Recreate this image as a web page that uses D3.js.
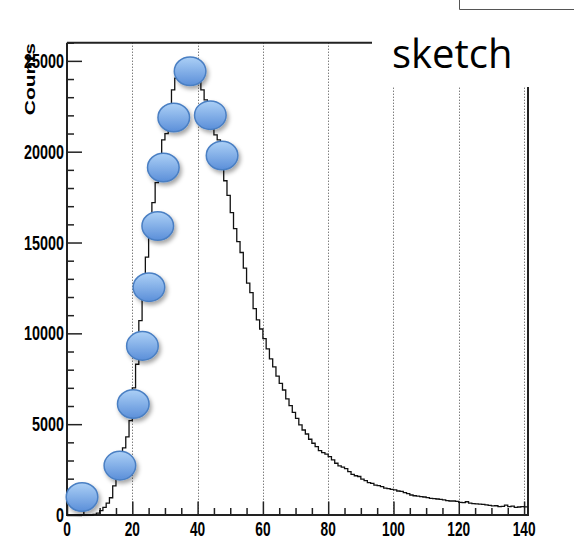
<!DOCTYPE html>
<html>
<head>
<meta charset="utf-8">
<script src="https://cdn.jsdelivr.net/npm/d3@7"></script>
<style>
  body { margin: 0; background: #fff; }
  svg { display: block; }
</style>
</head>
<body>
<svg width="574" height="540"></svg>
<script>
// The svg
var svg = d3.select("svg"),
    width = +svg.attr("width"),
    height = +svg.attr("height");

// Histogram contents, one count per unit-wide bin starting at 0
var binStart = 0;
var counts = [
    0, 0, 0, 0, 0, 0, 0, 0, 30, 100,
    240, 420, 650, 950, 1600, 2100, 2800, 3700, 4300, 5200,
    7000, 8300, 10700, 12300, 14200, 15700, 17200, 18300, 19500, 20650,
    21000, 22300, 23400, 24050, 24400, 24700, 24900, 25000, 24900, 24700,
    24300, 23400, 22850, 22200, 21600, 20930, 20650, 19500, 18400, 17600,
    16650, 15770, 15050, 14450, 13590, 12760, 12240, 11360, 10740, 10240,
    9710, 9150, 8600, 8150, 7650, 7250, 6880, 6390, 6020, 5650,
    5320, 4960, 4680, 4460, 4170, 3950, 3760, 3540, 3430, 3350,
    3210, 3030, 2850, 2700, 2640, 2550, 2390, 2240, 2160, 2120,
    1980, 1890, 1780, 1740, 1650, 1620, 1560, 1480, 1450, 1410,
    1380, 1320, 1300, 1230, 1180, 1100, 1060, 1040, 1010, 990,
    960, 920, 900, 880, 860, 830, 790, 770, 770, 750,
    690, 680, 730, 650, 630, 610, 600, 590, 560, 530,
    500, 510, 460, 470, 540, 460, 490, 420, 440, 460,
    450
];

// The hand drawn "sketch" markers laid over the curve
var sketchX = [4.6, 16.2, 20.3, 23.1, 25.1, 27.8, 29.5, 32.7, 37.7, 43.9, 47.5];
var sketchY = [990, 2720, 6110, 9310, 12540, 15910, 19130, 21880, 24430, 22010, 19790];

// Axis ticks and labels
var xTicks = [0, 20, 40, 60, 80, 100, 120, 140];
var yTicks = [0, 5000, 10000, 15000, 20000, 25000];
var yLabel = "Counts";
var noteText = "sketch";

// Scales
var x = d3.scaleLinear().domain([0, 141.2]).range([67, 528]);
var y = d3.scaleLinear().domain([0, 26000]).range([515, 42.7]);

var squeeze = 0.685;
var labelFont = "'Liberation Sans', Arial, Helvetica, sans-serif";

// Defs: marker gradient and shadow
var defs = svg.append("defs");
var grad = defs.append("linearGradient")
    .attr("id", "blob")
    .attr("x1", 0).attr("y1", 0).attr("x2", 0).attr("y2", 1);
grad.append("stop").attr("offset", "0%").attr("stop-color", "#acd0f6");
grad.append("stop").attr("offset", "100%").attr("stop-color", "#5b8fd9");
var shadow = defs.append("filter")
    .attr("id", "shadow")
    .attr("x", "-30%").attr("y", "-30%").attr("width", "170%").attr("height", "170%");
shadow.append("feDropShadow")
    .attr("dx", 2).attr("dy", 3)
    .attr("stdDeviation", 2)
    .attr("flood-color", "#000")
    .attr("flood-opacity", 0.35);

// Dotted vertical grid
svg.append("g")
    .selectAll("line")
    .data(xTicks.filter(function (d) { return d > 0; }))
    .enter().append("line")
    .attr("x1", function (d) { return Math.round(x(d)) + 0.5; })
    .attr("x2", function (d) { return Math.round(x(d)) + 0.5; })
    .attr("y1", y(26000))
    .attr("y2", y(0))
    .style("stroke", "#444")
    .style("stroke-width", 1)
    .style("stroke-dasharray", "1,2");

// Axes, ticks pointing into the frame
var xAxis = d3.axisTop(x)
    .tickValues(d3.range(0, 141, 5))
    .tickSize(7)
    .tickFormat("");
var xg = svg.append("g")
    .attr("transform", "translate(0," + y(0) + ")")
    .call(xAxis);
xg.selectAll(".tick line")
    .attr("y2", function (d) { return d % 20 === 0 ? -13.5 : -7; });

var yAxis = d3.axisRight(y)
    .tickValues(d3.range(0, 26001, 1000))
    .tickSize(7)
    .tickFormat("");
var yg = svg.append("g")
    .attr("transform", "translate(" + x(0) + ",0)")
    .call(yAxis);
yg.selectAll(".tick line")
    .attr("x2", function (d) { return d % 5000 === 0 ? 15 : 7; });

[xg, yg].forEach(function (g) {
    g.select(".domain").remove();
    g.selectAll(".tick line")
        .style("stroke", "#222")
        .style("stroke-width", 1.5);
});

// Frame
svg.append("path")
    .attr("d", "M" + x(0) + "," + y(26000) + "V" + y(0) + "H" + x(141.2) + "V" + y(26000) + "H" + x(0))
    .style("fill", "none")
    .style("stroke", "#222")
    .style("stroke-width", 2);

// Histogram outline
var steps = counts.map(function (c, i) { return [binStart + i, c]; });
steps.unshift([binStart, 0]);
steps.push([141.2, counts[counts.length - 1]]);
var line = d3.line()
    .x(function (d) { return x(d[0]); })
    .y(function (d) { return y(d[1]); })
    .curve(d3.curveStepAfter);
svg.append("path")
    .datum(steps)
    .attr("d", line)
    .style("fill", "none")
    .style("stroke", "#111")
    .style("stroke-width", 1.3);

// Tick labels, narrow bold
svg.append("g")
    .selectAll("text")
    .data(xTicks)
    .enter().append("text")
    .attr("transform", function (d) { return "translate(" + x(d) + ",536) scale(" + squeeze + ",1)"; })
    .attr("text-anchor", "middle")
    .style("font-family", labelFont)
    .style("font-weight", "bold")
    .style("font-size", "20px")
    .text(function (d) { return d; });

svg.append("g")
    .selectAll("text")
    .data(yTicks)
    .enter().append("text")
    .attr("transform", function (d) { return "translate(64," + (y(d) + 7) + ") scale(" + squeeze + ",1)"; })
    .attr("text-anchor", "end")
    .style("font-family", labelFont)
    .style("font-weight", "bold")
    .style("font-size", "21px")
    .text(function (d) { return d; });

svg.append("text")
    .attr("transform", "translate(35,43) scale(" + squeeze + ",1) rotate(-90)")
    .attr("text-anchor", "end")
    .style("font-family", labelFont)
    .style("font-weight", "bold")
    .style("font-size", "21px")
    .text(yLabel);

// Sketch markers
svg.append("g")
    .selectAll("ellipse")
    .data(sketchX)
    .enter().append("ellipse")
    .attr("cx", function (d) { return x(d); })
    .attr("cy", function (d, i) { return y(sketchY[i]); })
    .attr("rx", 15.8)
    .attr("ry", 14.3)
    .attr("filter", "url(#shadow)")
    .style("fill", "url(#blob)")
    .style("stroke", "#4a7fc3")
    .style("stroke-width", 1.5);

// Note box over the top right corner
svg.append("rect")
    .attr("x", 372).attr("y", 18)
    .attr("width", width - 372).attr("height", 69)
    .style("fill", "#fff");
svg.append("path")
    .attr("d", "M459.5,0V9.5H574")
    .style("fill", "none")
    .style("stroke", "#555")
    .style("stroke-width", 1);
svg.append("text")
    .attr("x", 392)
    .attr("y", 68)
    .style("font-family", "'Open Sans', sans-serif")
    .style("font-size", "40px")
    .style("fill", "#000")
    .text(noteText);
</script>
</body>
</html>
